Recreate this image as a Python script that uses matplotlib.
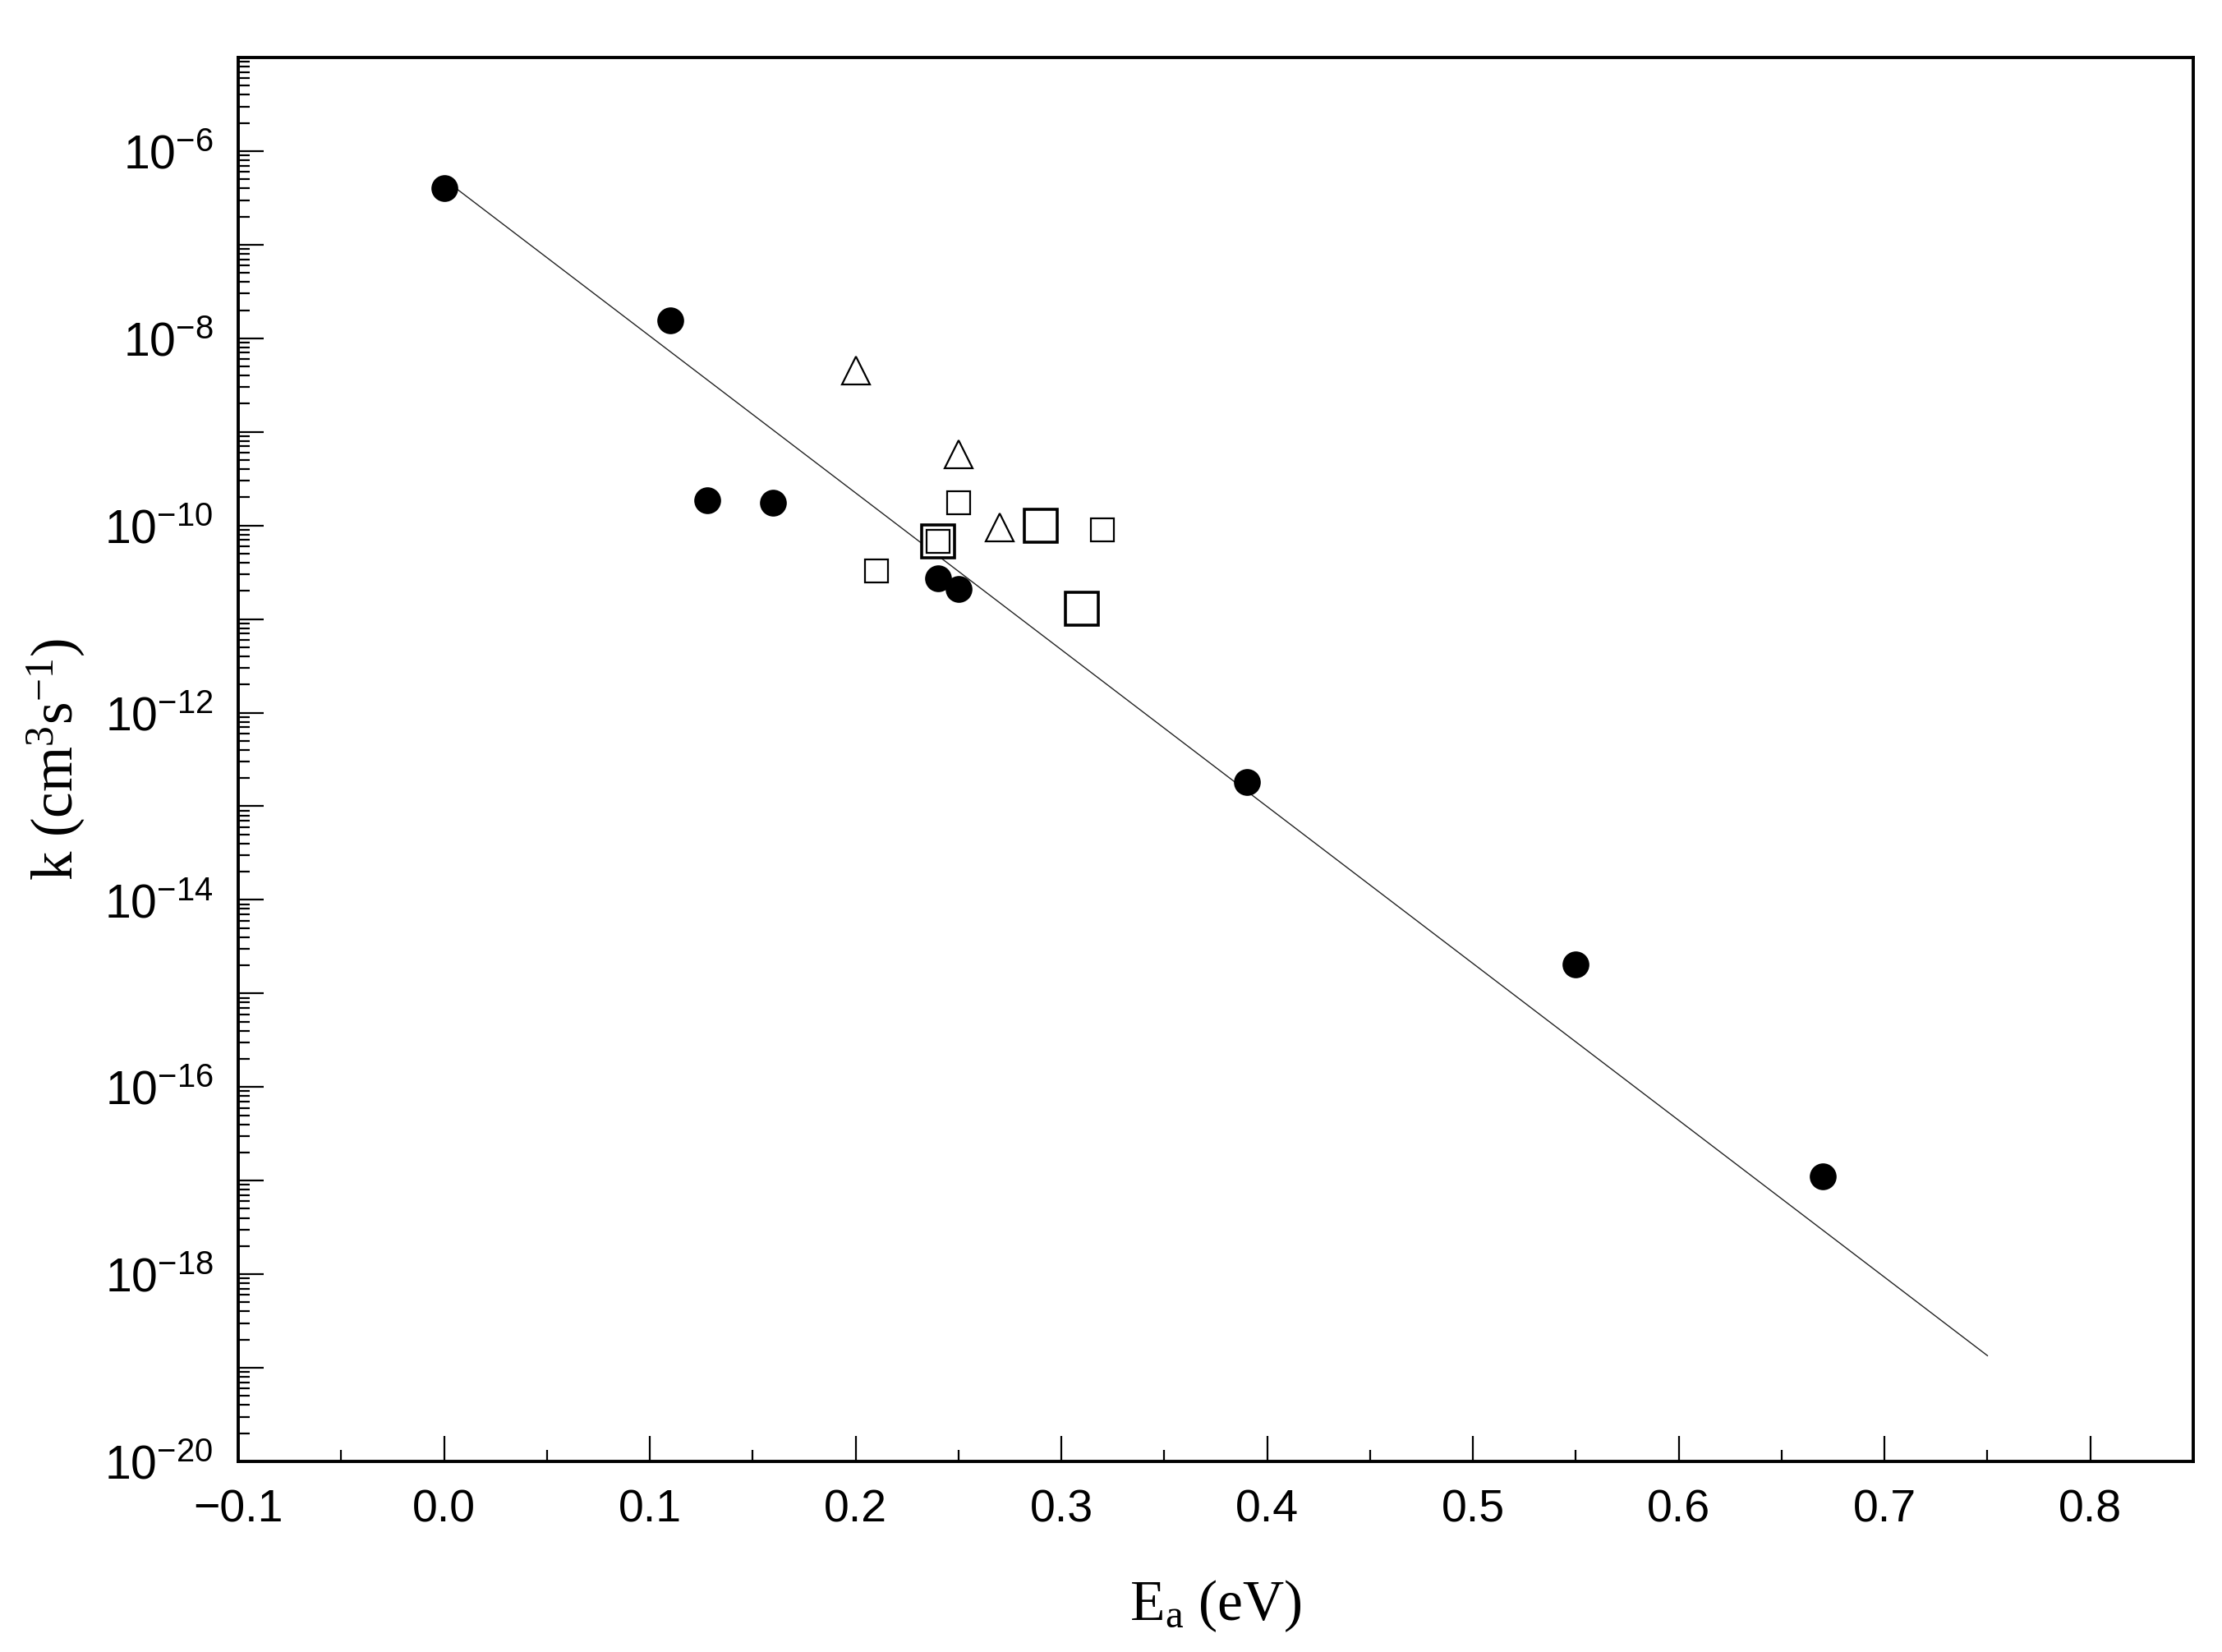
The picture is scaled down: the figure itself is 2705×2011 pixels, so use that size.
import numpy as np
import matplotlib
matplotlib.use("Agg")
import matplotlib.pyplot as plt
from matplotlib.ticker import FixedLocator, FuncFormatter, NullFormatter

plt.rcParams['mathtext.fontset'] = 'custom'
plt.rcParams['mathtext.rm'] = 'Liberation Serif'
plt.rcParams['mathtext.it'] = 'Liberation Serif:italic'
plt.rcParams['mathtext.sf'] = 'Liberation Sans'

# ---- data ----
circle_x = [0.0, 0.11, 0.128, 0.16, 0.24, 0.25, 0.39, 0.55, 0.67]
circle_k = [4.0e-7, 1.55e-8, 1.87e-10, 1.75e-10, 2.7e-11, 2.1e-11, 1.83e-13, 2.06e-15, 1.11e-17]

triangle_x = [0.20, 0.25, 0.27]
triangle_k = [4.5e-9, 5.8e-10, 9.5e-11]

small_sq_x = [0.21, 0.24, 0.25, 0.32]
small_sq_k = [3.3e-11, 6.8e-11, 1.74e-10, 8.9e-11]

big_sq_x = [0.24, 0.29, 0.31]
big_sq_k = [6.8e-11, 9.9e-11, 1.3e-11]

fit_x = [0.0, 0.75]
fit_k = [10**-6.30, 10**-18.87]

x_ticks = [-0.1, 0.0, 0.1, 0.2, 0.3, 0.4, 0.5, 0.6, 0.7, 0.8]
y_exponents = list(range(-20, -4))

# ---- figure ----
fig = plt.figure(figsize=(27.05, 20.11), dpi=100)
ax = fig.add_axes([290/2705, 1 - 1779/2011, 2380/2705, 1709/2011])

ax.plot(fit_x, fit_k, color='#222222', lw=1.0, zorder=2)
ax.plot(circle_x, circle_k, 'o', ms=23.5, mfc='black', mec='black', mew=0, zorder=3)
ax.plot(triangle_x, triangle_k, '^', ms=25, mfc='white', mec='black', mew=1.6, zorder=3)
ax.plot(big_sq_x, big_sq_k, 's', ms=29.5, mfc='white', mec='black', mew=2.6, zorder=3)
ax.plot(small_sq_x, small_sq_k, 's', ms=19.5, mfc='white', mec='black', mew=1.6, zorder=4)

ax.set_yscale('log')
ax.set_xlim(-0.1, 0.85)
ax.set_ylim(1e-20, 1e-5)

# x ticks
ax.set_xticks(x_ticks)
ax.set_xticklabels(['\u22120.1'] + ['%.1f' % v for v in x_ticks[1:]],
                   fontfamily='Liberation Sans', fontsize=40)
ax.xaxis.set_minor_locator(FixedLocator([v + 0.05 for v in x_ticks[:-1]]))

# y ticks
ax.yaxis.set_major_locator(FixedLocator([10.0**e for e in y_exponents]))
def yfmt(v, pos):
    e = int(round(np.log10(v)))
    if e % 2 == 0:
        return r'$\mathsf{10^{%d}}$' % e
    return ''
ax.yaxis.set_major_formatter(FuncFormatter(yfmt))
minors = [m * 10.0**e for e in y_exponents[:-1] for m in range(2, 10)]
ax.yaxis.set_minor_locator(FixedLocator(minors))
ax.yaxis.set_minor_formatter(NullFormatter())

ax.tick_params(axis='both', which='major', direction='in', length=22, width=1.6,
               top=False, right=False, color='black')
ax.tick_params(axis='both', which='minor', direction='in', length=10, width=1.6,
               top=False, right=False, color='black')
ax.tick_params(axis='x', which='major', pad=24)
ax.tick_params(axis='y', which='major', pad=22, labelsize=41)

for s in ax.spines.values():
    s.set_linewidth(2.8)
    s.set_color('black')

ax.set_xlabel(r'E$_\mathrm{a}$ (eV)', fontfamily='Liberation Serif', fontsize=50)
ax.xaxis.set_label_coords(0.5, -0.083)
ax.set_ylabel(r'k (cm$^\mathrm{3}$s$^\mathrm{-1}$)', fontfamily='Liberation Serif',
              fontsize=51, va='center')
ax.yaxis.set_label_coords(-0.093, 0.5)

fig.savefig('out.png', dpi=100, facecolor='white')
